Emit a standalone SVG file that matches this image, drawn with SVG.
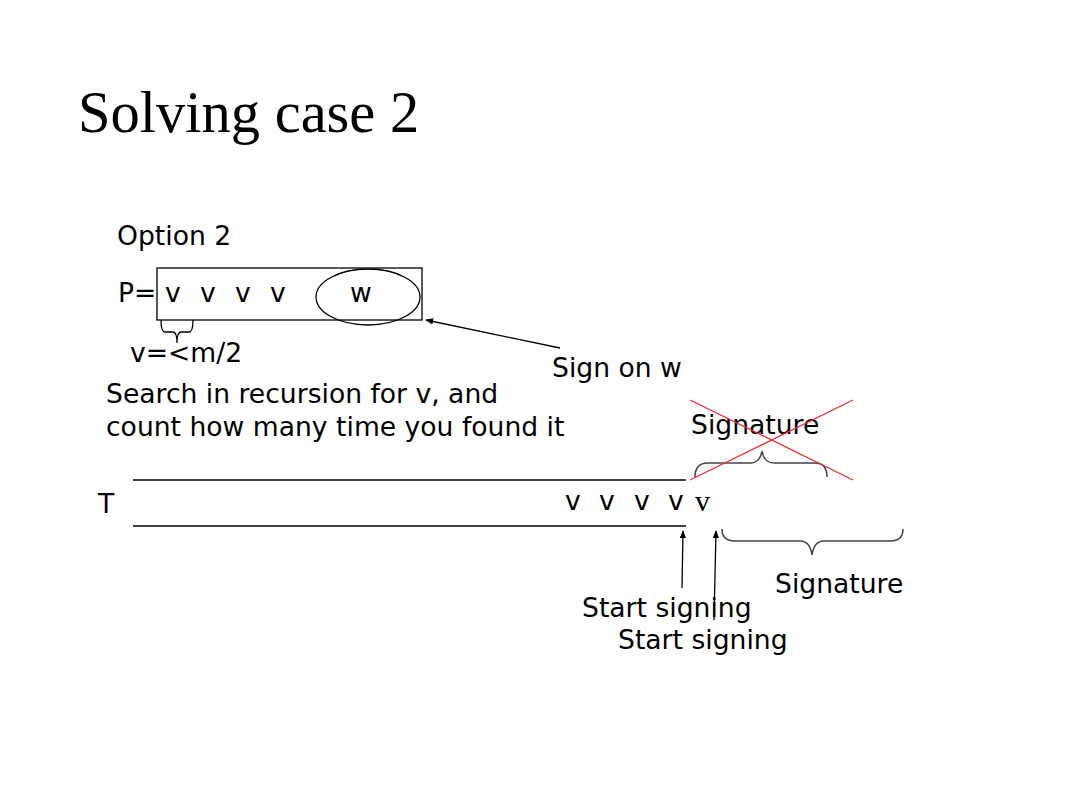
<svg xmlns="http://www.w3.org/2000/svg" width="1066" height="800" viewBox="0 0 1066 800">
<style>
.s{font-family:"DejaVu Sans","Noto Sans",sans-serif;font-size:26.6px;fill:#000}
.t{font-family:"Liberation Serif","Times New Roman",serif;fill:#000}
.ln{stroke:#000;stroke-width:1.3;fill:none}
.br{stroke:#444;stroke-width:1.5;fill:none}
.rd{stroke:#e8303a;stroke-width:1.3;fill:none}
</style>
<defs>
<marker id="ah" viewBox="0 0 10 10" refX="9" refY="5" markerWidth="8" markerHeight="8" markerUnits="userSpaceOnUse" orient="auto">
<path d="M0,1 L10,5 L0,9 z" fill="#000"/>
</marker>
</defs>
<rect width="1066" height="800" fill="#fff"/>
<text class="t" x="78" y="132" font-size="58.5">Solving case 2</text>
<text class="s" x="117" y="245">Option 2</text>
<g id="pattern">
<rect x="157" y="268" width="265" height="52" class="ln"/>
<text class="s" x="118" y="302">P=</text>
<text class="s" x="165" y="302">v</text>
<text class="s" x="200" y="302">v</text>
<text class="s" x="235" y="302">v</text>
<text class="s" x="270" y="302">v</text>
<text class="s" x="350" y="302">w</text>
<ellipse cx="368" cy="297" rx="52" ry="28" class="ln"/>
<path class="ln" d="M161,320 Q161,332 165,332 L173,332 Q177,332 177,343 Q177,332 181,332 L189,332 Q193,332 193,320"/>
<text class="s" x="130" y="362">v=&lt;m/2</text>
</g>
<text class="s" x="106" y="403">Search in recursion for v, and</text>
<text class="s" x="106" y="436">count how many time you found it</text>
<g id="text-T">
<line x1="133" y1="480" x2="686" y2="480" class="ln"/>
<line x1="133" y1="526" x2="686" y2="526" class="ln"/>
<text class="s" x="98" y="513">T</text>
<text class="s" x="565" y="510">v</text>
<text class="s" x="599" y="510">v</text>
<text class="s" x="634" y="510">v</text>
<text class="s" x="668" y="510">v</text>
<text class="t" x="695" y="511" font-size="30">v</text>
</g>
<g id="crossed-signature">
<text class="s" x="691" y="434">Signature</text>
<path class="br" d="M695,477 Q695,463 708,463 L750,463 Q760,463 762,451 Q764,463 774,463 L815,463 Q827,463 827,477"/>
<line x1="690" y1="480" x2="853" y2="400" class="rd"/>
<line x1="690" y1="400" x2="853" y2="480" class="rd"/>
</g>
<g id="signature">
<path class="br" d="M722,529 Q722,541 735,541 L800,541 Q810,541 812,555 Q814,541 824,541 L890,541 Q903,541 903,529"/>
<text class="s" x="775" y="593">Signature</text>
</g>
<g id="connectors">
<line x1="560" y1="348" x2="426" y2="320" class="ln" marker-end="url(#ah)"/>
<line x1="682" y1="588" x2="683" y2="531" class="ln" marker-end="url(#ah)"/>
<line x1="714" y1="620" x2="716" y2="531" class="ln" marker-end="url(#ah)"/>
</g>
<text class="s" x="552" y="377">Sign on w</text>
<text class="s" x="582" y="617">Start signing</text>
<text class="s" x="618" y="649">Start signing</text>
</svg>
